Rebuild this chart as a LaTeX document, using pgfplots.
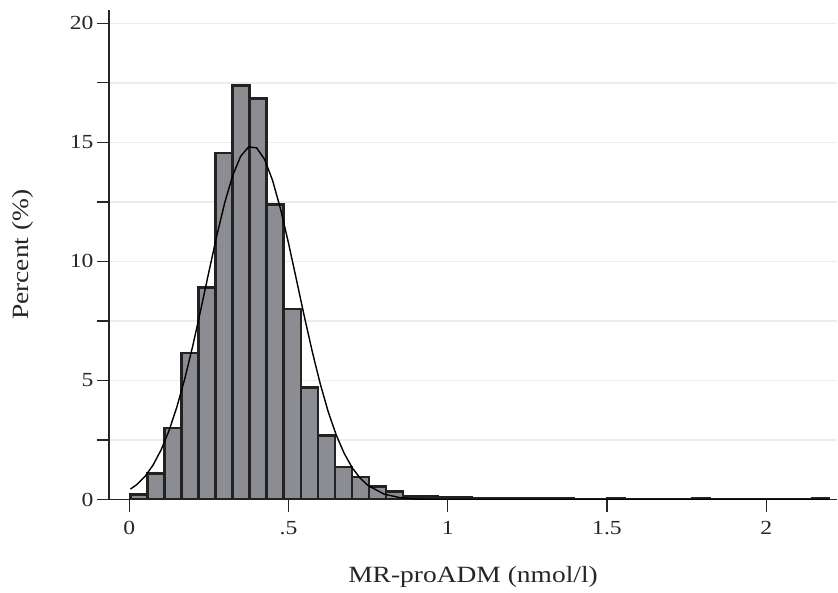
\documentclass[border=0pt]{standalone}
\usepackage{fontspec}
\setmainfont{Liberation Serif}[FakeStretch=1.18]
\usepackage{pgfplots}
\pgfplotsset{compat=1.18}
\definecolor{barfill}{HTML}{8B8D92}
\definecolor{baredge}{HTML}{222222}
\definecolor{gridc}{HTML}{ECECEC}
\begin{document}
\begin{tikzpicture}
\begin{axis}[
  scale only axis, width=729pt, height=490pt,
  xmin=-0.0637, xmax=2.223, ymin=0, ymax=20.56,
  axis lines*=left,
  axis line style={line width=1.2pt, color=black!85},
  tick align=outside, major tick length=12pt,
  tick style={line width=1.2pt, color=black!85},
  xtick={0,0.5,1,1.5,2}, xticklabels={0,.5,1,1.5,2},
  ytick={0,2.5,...,20}, yticklabels={0,,5,,10,,15,,20},
  ymajorgrids, grid style={gridc, line width=1.5pt},
  tick label style={font=\fontsize{20}{24}\selectfont, color=black!85},
  xticklabel style={yshift=-6pt},
  /pgf/number format/assume math mode=true,
  xlabel={MR-proADM (nmol/l)}, ylabel={Percent (\%)},
  every axis x label/.style={at={(axis description cs:0.5,-0.159)}, anchor=center,
     font=\fontsize{23.3}{27}\selectfont, color=black!85},
  every axis y label/.style={at={(axis description cs:-0.118,0.5)}, rotate=90, anchor=center,
     font=\fontsize{23.3}{27}\selectfont, color=black!85},
]
\addplot[ybar interval, fill=barfill, draw=baredge, line width=2.7pt] coordinates {
(0.004,0.2) (0.0575,1.08) (0.111,3.0) (0.1645,6.15) (0.218,8.9) (0.2715,14.55)
(0.325,17.4) (0.3785,16.85) (0.432,12.4) (0.4855,8.0) (0.539,4.7) (0.5925,2.7)
(0.646,1.37) (0.6995,0.95) (0.753,0.56) (0.8065,0.35) (0.86,0.14) (0.9135,0.13)
(0.967,0.09) (1.0205,0.08) (1.074,0.05) (1.1275,0.05) (1.181,0.04) (1.2345,0.04)
(1.288,0.04) (1.3415,0.04) (1.395,0) (1.4485,0) (1.502,0.03) (1.5555,0)
(1.609,0) (1.6625,0) (1.716,0) (1.7695,0.03) (1.823,0) (1.8765,0)
(1.93,0) (1.9835,0) (2.037,0) (2.0905,0) (2.144,0.03) (2.1975,0.03)
};
\addplot[black, line width=1.4pt] coordinates {
(0.004,0.44) (0.025,0.64) (0.05,0.98) (0.075,1.45) (0.1,2.08) (0.125,2.89)
(0.15,3.90) (0.175,5.10) (0.2,6.48) (0.225,7.99) (0.25,9.55) (0.275,11.08)
(0.3,12.47) (0.325,13.61) (0.35,14.42) (0.375,14.81) (0.4,14.77) (0.425,14.29)
(0.45,13.41) (0.475,12.21) (0.5,10.78) (0.525,9.24) (0.55,7.68) (0.575,6.20)
(0.6,4.85) (0.625,3.68) (0.65,2.71) (0.675,1.94) (0.7,1.34) (0.725,0.90)
(0.75,0.59) (0.8,0.23) (0.85,0.08) (0.9,0.02) (0.95,0.005) (1.0,0)
(2.1975,0)
};
\end{axis}
\path (current axis.south west) ++(-109pt,-93pt);
\path (current axis.north east) ++(0pt,10pt);
\end{tikzpicture}
\end{document}
